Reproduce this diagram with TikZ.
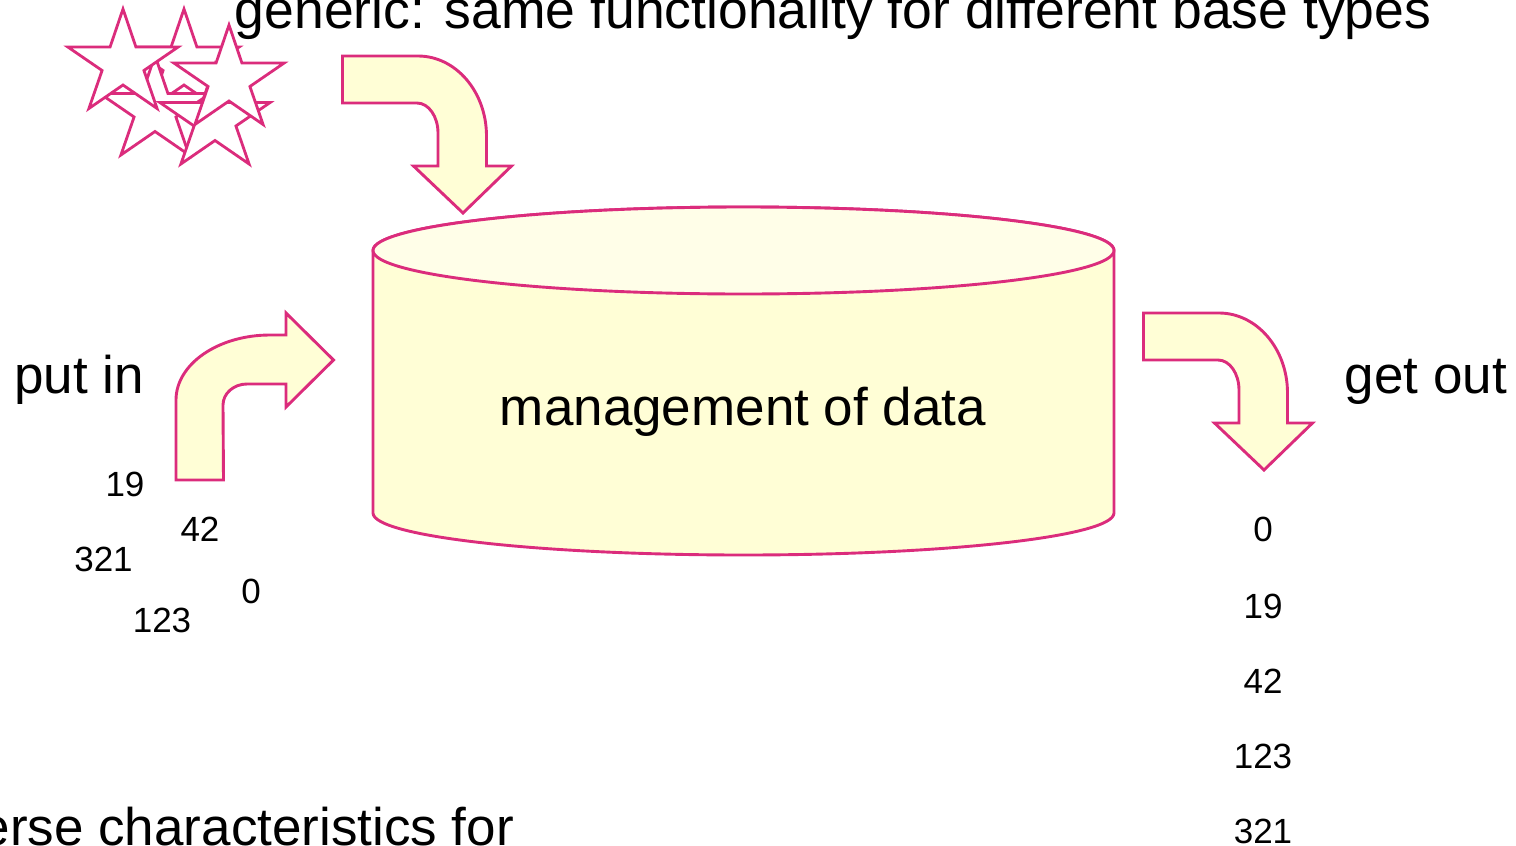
\documentclass[tikz,border=0pt]{standalone}
\usepackage{fontspec}
\setmainfont{Liberation Sans}
\definecolor{rim}{RGB}{219,44,124}
\definecolor{cream}{RGB}{255,254,214}
\definecolor{creamtop}{RGB}{255,254,232}
\tikzset{
  outline/.style={draw=rim, line width=2.9pt, line join=miter},
  blockarrow/.style={outline, fill=cream},
  starline/.style={draw=rim, line width=2.8pt, line join=miter, fill=white},
  big/.style={inner sep=0pt, font=\fontsize{53}{60}\selectfont},
  num/.style={inner sep=0pt, font=\fontsize{35}{40}\selectfont},
  % block arrow: tail to the right, bends and points down; origin = top-left of tail
  bentdown/.pic={
    \path[blockarrow] (0,0) -- (75.5,0)
      arc[start angle=90, end angle=0, x radius=68.5, y radius=80]
      -- (144,-110) -- (169,-110) -- (120.5,-157) -- (71,-110) -- (95.5,-110)
      -- (95.5,-77)
      arc[start angle=0, end angle=90, x radius=21, y radius=30]
      -- (0,-47) -- cycle;
  },
  % five-pointed outline star centred on the origin
  fivestar/.pic={
    \path[starline] (90:58 and 55) -- (126:22 and 21) -- (162:58 and 55)
      -- (198:22 and 21) -- (234:58 and 55) -- (270:22 and 21)
      -- (306:58 and 55) -- (342:22 and 21) -- (18:58 and 55)
      -- (54:22 and 21) -- cycle;
  }
}
\begin{document}
\begin{tikzpicture}[x=1pt, y=1pt]
\useasboundingbox (0,0) rectangle (1516,-846);
\clip (0,0) rectangle (1516,-846);

% data store (cylinder)
\path[outline, fill=cream] (373,-250.5) -- (373,-513)
  arc[start angle=180, end angle=360, x radius=370.5, y radius=42]
  -- (1114,-250.5)
  arc[start angle=0, end angle=180, x radius=370.5, y radius=43.5] -- cycle;
\path[outline, fill=creamtop] (743.5,-250.5) ellipse [x radius=370.5, y radius=43.5];
\node[big, anchor=base] (store) at (743,-425) {management of data};

% bent block arrows
\pic at (342.5,-56) {bentdown};
\pic at (1143.5,-313) {bentdown};
\path[blockarrow] (176,-480) -- (176,-400)
  arc[start angle=180, end angle=90, x radius=94, y radius=65]
  -- (286,-335) -- (286,-313) -- (333.5,-360) -- (286,-407) -- (286,-384)
  -- (247,-384)
  arc[start angle=90, end angle=180, x radius=24, y radius=21]
  -- (223.5,-480) -- cycle;

% cluster of stars
\pic at (184,-64) {fivestar};
\pic at (155,-110.5) {fivestar};
\pic at (215,-119.5) {fivestar};
\pic at (123,-64) {fivestar};
\pic at (229,-80) {fivestar};

% captions
\node[big, anchor=base, font=\fontsize{53.5}{60}\selectfont] (generic) at (833,-28) {generic: same functionality for different base types};
\node[big, anchor=base] (putin) at (79,-393) {put in};
\node[big, anchor=base] (getout) at (1426,-393) {get out};
\node[big, anchor=base east] (diverse) at (514,-845) {erse characteristics for};

% values going in
\node[num, anchor=base] (in19) at (125,-496.7) {19};
\node[num, anchor=base] (in42) at (200,-541.7) {42};
\node[num, anchor=base] (in321) at (103.5,-571.7) {321};
\node[num, anchor=base] (in0) at (251,-603.3) {0};
\node[num, anchor=base] (in123) at (162,-632.7) {123};

% values coming out, sorted
\node[num, anchor=base] (out0) at (1263,-541.7) {0};
\node[num, anchor=base] (out19) at (1263,-618.3) {19};
\node[num, anchor=base] (out42) at (1263,-693) {42};
\node[num, anchor=base] (out123) at (1263,-768.3) {123};
\node[num, anchor=base] (out321) at (1263,-843) {321};
\end{tikzpicture}
\end{document}
